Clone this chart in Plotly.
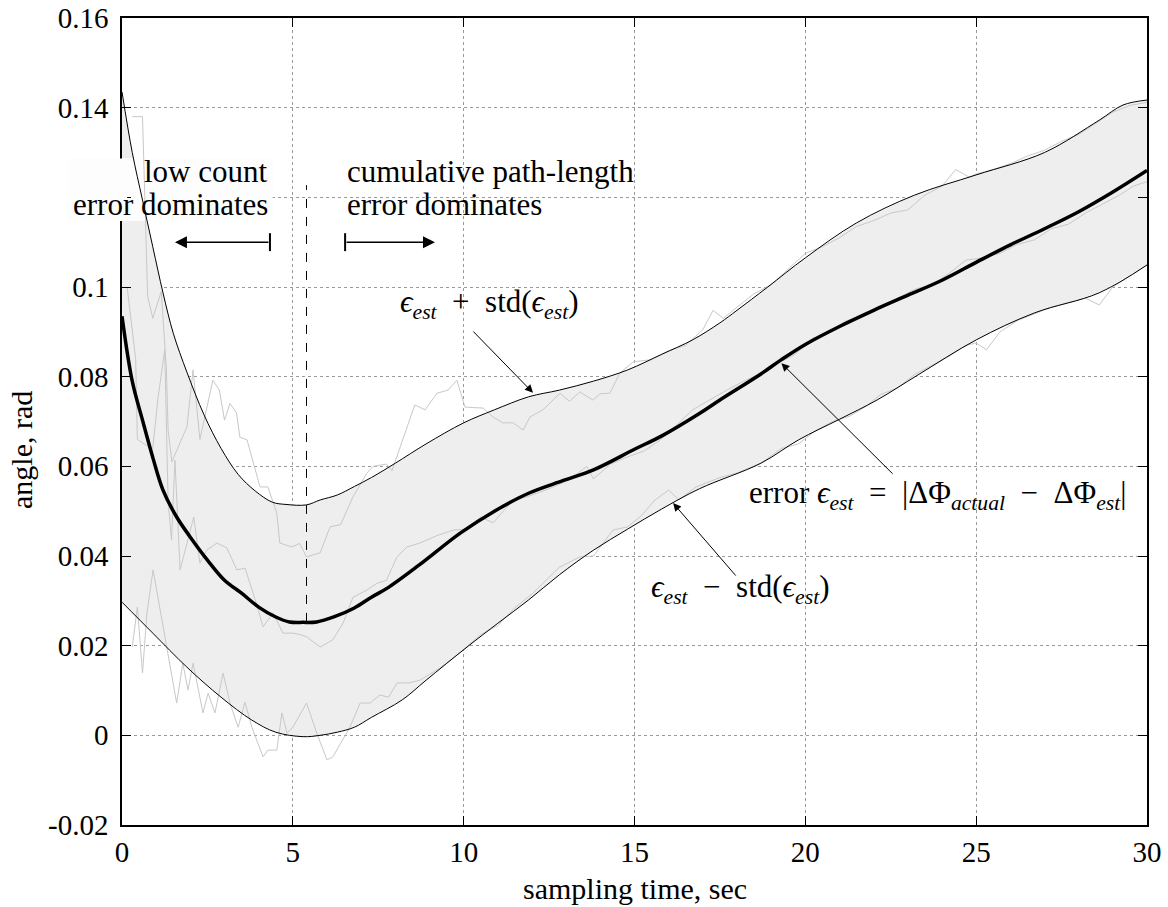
import plotly.graph_objects as go

# mean error curve (thick black)
t_mean = [0, 0.3, 0.6, 0.9, 1.2, 1.6, 2.0, 2.5, 3.0, 3.5, 4.0, 4.5, 4.9, 5.3, 5.7, 6.2, 6.8, 7.3, 7.8,
          8.7, 9.9, 10.9, 11.9, 12.9, 13.8, 15.0, 15.8, 16.9, 17.5, 18.7, 19.3, 20.0, 21.0, 22.0,
          22.8, 24.0, 25.0, 26.0, 27.0, 28.0, 29.0, 30.0]
err_mean = [0.0935, 0.079, 0.0703, 0.062, 0.0547, 0.0487, 0.0442, 0.0391, 0.0346, 0.0317, 0.0286,
            0.0264, 0.0253, 0.0252, 0.0253, 0.0264, 0.0284, 0.0308, 0.033, 0.038, 0.0451, 0.050,
            0.054, 0.0568, 0.0592, 0.0638, 0.0668, 0.0718, 0.0748, 0.0806, 0.0838, 0.0872, 0.0912,
            0.0948, 0.0975, 0.1015, 0.1055, 0.1094, 0.113, 0.1168, 0.1212, 0.126]

# mean + std
t_upper = [0, 0.3, 0.6, 0.9, 1.2, 1.5, 1.9, 2.4, 2.9, 3.4, 3.9, 4.4, 4.8, 5.4, 5.8, 6.3, 6.8, 7.3,
           8.0, 8.9, 10.0, 10.9, 11.9, 12.8, 13.8, 14.8, 15.8, 16.7, 17.5, 18.0, 18.9, 20.0, 21.5,
           23.2, 25.0, 27.0, 28.6, 29.3, 30.0]
err_upper = [0.1435, 0.130, 0.1194, 0.109, 0.0987, 0.0897, 0.081, 0.0715, 0.064, 0.0582, 0.0545,
             0.052, 0.0515, 0.0514, 0.0525, 0.0536, 0.0555, 0.0575, 0.0607, 0.065, 0.0697, 0.0726,
             0.0755, 0.077, 0.079, 0.0815, 0.085, 0.0882, 0.092, 0.0948, 0.100, 0.1065, 0.1143,
             0.1205, 0.125, 0.130, 0.1372, 0.1406, 0.1417]

# mean - std
t_lower = [0, 0.9, 1.9, 2.9, 3.8, 4.5, 5.3, 5.8, 6.3, 6.8, 7.3, 8.2, 8.9, 10.1, 11.0, 11.9, 12.8,
           13.8, 14.8, 15.8, 16.9, 18.7, 19.8, 21.0, 22.1, 23.3, 25.0, 26.7, 28.6, 30.0]
err_lower = [0.0297, 0.0228, 0.0152, 0.0085, 0.0034, 0.0007, -0.0003, 0.0, 0.0007, 0.0018, 0.004,
             0.0079, 0.0123, 0.0197, 0.025, 0.0302, 0.0358, 0.0413, 0.046, 0.0505, 0.055, 0.0607,
             0.0659, 0.0705, 0.0748, 0.0804, 0.0882, 0.0942, 0.0987, 0.1049]

# individual runs (light grey)
t_run_a = [0.3, 0.6, 0.75, 0.9, 1.15, 1.3, 1.35, 1.46, 1.9, 2.08, 2.28, 2.66, 2.85, 3.0, 3.16, 3.35,
           3.45, 3.66, 4.04, 4.27, 4.53, 4.62, 4.97, 5.2, 5.4, 5.8, 6.09, 6.4, 6.76, 7.17, 7.35, 7.74,
           7.9, 8.43, 8.57, 8.87, 9.22, 9.54, 9.8, 10.04, 10.57, 10.86, 11.15, 11.45, 11.74, 11.94,
           12.32, 12.82, 13.1, 13.4, 13.78, 14.0, 14.28, 14.57, 14.96, 15.5, 16.0, 16.5, 17.0, 17.3,
           17.6, 18.0, 18.5, 19.0, 19.5, 20.0, 20.5, 21.0, 21.5, 22.0, 22.5, 23.0, 23.5, 24.0, 24.4,
           24.8, 25.0, 25.5, 26.0, 26.5, 27.0, 27.5, 28.0, 28.5, 29.0, 29.5, 30.0]
run_a = [0.138, 0.138, 0.098, 0.093, 0.099, 0.0815, 0.068, 0.061, 0.0688, 0.0815, 0.066, 0.0792,
         0.077, 0.0703, 0.074, 0.072, 0.0665, 0.0659, 0.0554, 0.0554, 0.0496, 0.0429, 0.042, 0.0428,
         0.0398, 0.0407, 0.0465, 0.047, 0.0532, 0.0585, 0.060, 0.0605, 0.059, 0.0703, 0.0737, 0.0726,
         0.0763, 0.077, 0.0792, 0.0732, 0.073, 0.071, 0.0697, 0.0697, 0.0681, 0.071, 0.0726, 0.0763,
         0.0745, 0.0766, 0.0748, 0.0762, 0.0763, 0.0808, 0.0833, 0.0838, 0.0858, 0.087, 0.0905,
         0.0948, 0.093, 0.0955, 0.0985, 0.1005, 0.104, 0.1075, 0.109, 0.111, 0.1135, 0.1148, 0.1165,
         0.1172, 0.1205, 0.1225, 0.1262, 0.1245, 0.1252, 0.1262, 0.1275, 0.1292, 0.1305, 0.1325,
         0.134, 0.1365, 0.139, 0.1405, 0.1412]

t_run_b = [0.15, 0.4, 0.45, 0.75, 0.9, 1.05, 1.25, 1.35, 1.45, 1.55, 1.7, 2.0, 2.1, 2.28, 2.48, 2.78,
           3.07, 3.36, 3.6, 3.84, 4.13, 4.42, 4.71, 5.0, 5.2, 5.4, 5.8, 6.17, 6.47, 6.76, 7.17, 7.46,
           7.74, 8.05, 8.34, 8.72, 9.2, 9.7, 10.1, 10.5, 10.86, 11.45, 11.85, 12.4, 13.1, 13.6, 13.8,
           14.3, 14.8, 15.3, 15.75, 16.2, 16.7, 17.2, 17.7, 18.2, 18.7, 19.2, 19.7, 20.2, 20.7, 21.2,
           21.7, 22.2, 22.7, 23.2, 23.7, 24.2, 24.7, 25.2, 25.7, 26.2, 26.7, 27.2, 27.7, 28.2, 28.7,
           29.2, 29.6, 30.0]
run_b = [0.100, 0.084, 0.066, 0.0645, 0.064, 0.075, 0.086, 0.052, 0.0436, 0.0614, 0.0369, 0.0458,
         0.0487, 0.0384, 0.0413, 0.0429, 0.0418, 0.0369, 0.0373, 0.0317, 0.0242, 0.0273, 0.0228,
         0.0228, 0.0225, 0.022, 0.0197, 0.0213, 0.025, 0.0308, 0.0324, 0.0339, 0.0346, 0.0398, 0.042,
         0.0429, 0.0445, 0.0458, 0.046, 0.0487, 0.0474, 0.0525, 0.0532, 0.0547, 0.057, 0.060, 0.0572,
         0.0605, 0.0621, 0.0635, 0.0659, 0.069, 0.0726, 0.0748, 0.077, 0.079, 0.0808, 0.083, 0.085,
         0.0885, 0.090, 0.0925, 0.0935, 0.0955, 0.0975, 0.0995, 0.1005, 0.103, 0.106, 0.1065, 0.1075,
         0.1095, 0.1105, 0.113, 0.114, 0.1165, 0.1185, 0.1205, 0.1225, 0.1235]

t_run_c = [0.3, 0.45, 0.6, 0.73, 0.91, 1.1, 1.3, 1.6, 1.78, 1.93, 2.08, 2.37, 2.52, 2.72, 2.96, 3.16,
           3.4, 3.6, 3.8, 4.13, 4.27, 4.53, 4.68, 4.83, 5.0, 5.4, 5.7, 6.0, 6.17, 6.67, 6.97, 7.26,
           7.55, 7.8, 8.05, 8.4, 8.72, 9.3, 9.9, 10.5, 11.0, 11.5, 12.0, 12.8, 13.4, 13.8, 14.37, 14.8,
           15.2, 15.6, 16.0, 16.3, 16.8, 17.5, 18.0, 18.7, 19.3, 19.8, 20.3, 20.8, 21.3, 21.8, 22.2,
           22.7, 23.2, 23.7, 24.2, 24.7, 25.0, 25.3, 25.7, 26.2, 26.7, 27.2, 27.7, 28.2, 28.6, 29.0,
           29.5, 30.0]
run_c = [0.0197, 0.0286, 0.0139, 0.0273, 0.0369, 0.0286, 0.0197, 0.0072, 0.0161, 0.0101, 0.0161,
         0.005, 0.0094, 0.005, 0.0139, 0.0072, 0.0018, 0.0074, 0.0018, -0.0048, -0.0033, -0.0033,
         0.005, 0.0005, 0.0018, 0.0072, 0.0005, -0.0055, -0.0048, 0.0018, 0.0072, 0.0072, 0.009,
         0.0085, 0.0117, 0.0117, 0.0123, 0.015, 0.0185, 0.0225, 0.0245, 0.0285, 0.0315, 0.0375,
         0.0398, 0.040, 0.0458, 0.0465, 0.049, 0.0525, 0.0547, 0.0525, 0.0554, 0.0575, 0.0585, 0.0607,
         0.064, 0.065, 0.068, 0.070, 0.0712, 0.0735, 0.076, 0.0775, 0.0805, 0.0825, 0.0845, 0.087,
         0.0875, 0.086, 0.090, 0.0925, 0.094, 0.0955, 0.0965, 0.0975, 0.096, 0.100, 0.1025, 0.105]

x_ticks = [0, 5, 10, 15, 20, 25, 30]
y_ticks = [-0.02, 0, 0.02, 0.04, 0.06, 0.08, 0.1, 0.12, 0.14, 0.16]
y_ticktext = ["-0.02", "0", "0.02", "0.04", "0.06", "0.08", "0.1", "", "0.14", "0.16"]

SERIF = "Liberation Serif, Times New Roman, serif"

fig = go.Figure()

# shaded band between mean-std and mean+std
fig.add_trace(go.Scatter(x=t_lower, y=err_lower, mode="lines", line=dict(width=0, color="rgba(0,0,0,0)"),
                         hoverinfo="skip", showlegend=False))
fig.add_trace(go.Scatter(x=t_upper, y=err_upper, mode="lines", line=dict(width=0, color="rgba(0,0,0,0)"),
                         fill="tonexty", fillcolor="#eeeeee", hoverinfo="skip", showlegend=False))

# white backdrop behind "low count" label (above the band, below the curves)
fig.add_trace(go.Scatter(x=[-0.1, 4.41, 4.41, -0.1, -0.1], y=[0.1147, 0.1147, 0.1287, 0.1287, 0.1147],
                         mode="lines", fill="toself", fillcolor="#fdfdfd", line=dict(width=0),
                         hoverinfo="skip", showlegend=False))

# the individual runs
for tx, ry in [(t_run_a, run_a), (t_run_b, run_b), (t_run_c, run_c)]:
    fig.add_trace(go.Scatter(x=tx, y=ry, mode="lines", line=dict(color="#c8c8c8", width=1),
                             hoverinfo="skip", showlegend=False))

fig.add_trace(go.Scatter(x=t_upper, y=err_upper, mode="lines", line=dict(color="black", width=1),
                         line_shape="spline", showlegend=False))
fig.add_trace(go.Scatter(x=t_lower, y=err_lower, mode="lines", line=dict(color="black", width=1),
                         line_shape="spline", showlegend=False))
fig.add_trace(go.Scatter(x=t_mean, y=err_mean, mode="lines", line=dict(color="black", width=3.5),
                         line_shape="spline", showlegend=False))

# dashed divider and the small end bars of the two arrows
fig.add_shape(type="line", x0=5.4, x1=5.4, y0=0.0253, y1=0.1227,
              line=dict(color="black", width=1, dash="dash"))
fig.add_shape(type="line", x0=4.33, x1=4.33, y0=0.108, y1=0.112, line=dict(color="black", width=2))
fig.add_shape(type="line", x0=6.53, x1=6.53, y0=0.108, y1=0.112, line=dict(color="black", width=2))
# white box spills over the axis on the left
fig.add_shape(type="rect", xref="paper", yref="paper", x0=-0.053, x1=0.005, y0=0.7485, y1=0.8259,
              fillcolor="#fdfdfd", line=dict(width=0), layer="above")

txt = dict(family=SERIF, size=31, color="black")
fig.add_annotation(x=4.33, y=0.1257, text="low count", showarrow=False,
                   xanchor="right", yanchor="middle", font=txt)
fig.add_annotation(x=4.33, y=0.1183, text="error dominates", showarrow=False,
                   xanchor="right", yanchor="middle", font=txt)
fig.add_annotation(x=6.53, y=0.1257, text="cumulative path-length", showarrow=False,
                   xanchor="left", yanchor="middle", font=txt)
fig.add_annotation(x=6.53, y=0.1183, text="error dominates", showarrow=False,
                   xanchor="left", yanchor="middle", font=txt)

# direction arrows
fig.add_annotation(x=1.55, y=0.11, ax=4.33, ay=0.11, axref="x", ayref="y", text="", showarrow=True,
                   arrowhead=2, arrowsize=1.6, arrowwidth=1.5, arrowcolor="black")
fig.add_annotation(x=9.16, y=0.11, ax=6.53, ay=0.11, axref="x", ayref="y", text="", showarrow=True,
                   arrowhead=2, arrowsize=1.6, arrowwidth=1.5, arrowcolor="black")

eps = "<i>ϵ<sub>est</sub></i>"
fig.add_annotation(x=10.77, y=0.0962, text=eps + "  +  std(" + eps + ")", showarrow=False,
                   xanchor="center", yanchor="middle", font=txt)
fig.add_annotation(x=12.03, y=0.0764, ax=10.24, ay=0.0904, axref="x", ayref="y", text="",
                   showarrow=True, arrowhead=2, arrowsize=1.6, arrowwidth=1, arrowcolor="black")

fig.add_annotation(x=18.3, y=0.0535,
                   text="error " + eps + "  =  |ΔΦ<sub><i>actual</i></sub>  −  ΔΦ<sub><i>est</i></sub>|",
                   showarrow=False, xanchor="left", yanchor="middle", font=txt)
fig.add_annotation(x=19.3, y=0.083, ax=22.6, ay=0.058, axref="x", ayref="y", text="",
                   showarrow=True, arrowhead=2, arrowsize=1.6, arrowwidth=1, arrowcolor="black")

fig.add_annotation(x=18.09, y=0.0327, text=eps + "  −  std(" + eps + ")", showarrow=False,
                   xanchor="center", yanchor="middle", font=txt)
fig.add_annotation(x=16.13, y=0.0518, ax=18.0, ay=0.0353, axref="x", ayref="y", text="",
                   showarrow=True, arrowhead=2, arrowsize=1.6, arrowwidth=1, arrowcolor="black")

# axis titles
fig.add_annotation(x=0.5, y=-0.0793, xref="paper", yref="paper", text="sampling time, sec",
                   showarrow=False, xanchor="center", yanchor="middle",
                   font=dict(family=SERIF, size=30, color="black"))
fig.add_annotation(x=-0.0976, y=0.4647, xref="paper", yref="paper", text="angle, rad", textangle=-90,
                   showarrow=False, xanchor="center", yanchor="middle",
                   font=dict(family=SERIF, size=30, color="black"))

axis_common = dict(showgrid=True, gridcolor="#9a9a9a", griddash="dot", gridwidth=1, zeroline=False,
                   showline=True, linecolor="black", linewidth=1.5, mirror="ticks", ticks="inside",
                   ticklen=9, tickcolor="black", tickwidth=1,
                   tickfont=dict(family=SERIF, size=29, color="black"))

fig.update_xaxes(range=[0, 30], tickvals=x_ticks, ticklabelstandoff=0, **axis_common)
fig.update_yaxes(range=[-0.02, 0.16], tickvals=y_ticks, ticktext=y_ticktext, ticklabelstandoff=6,
                 **axis_common)

fig.update_layout(width=1168, height=907, margin=dict(l=122, r=21, t=18, b=82, autoexpand=False),
                  plot_bgcolor="white", paper_bgcolor="white", showlegend=False)

fig.write_html("out.html", config={"displayModeBar": False},
               post_script="document.body.style.margin='0';")
